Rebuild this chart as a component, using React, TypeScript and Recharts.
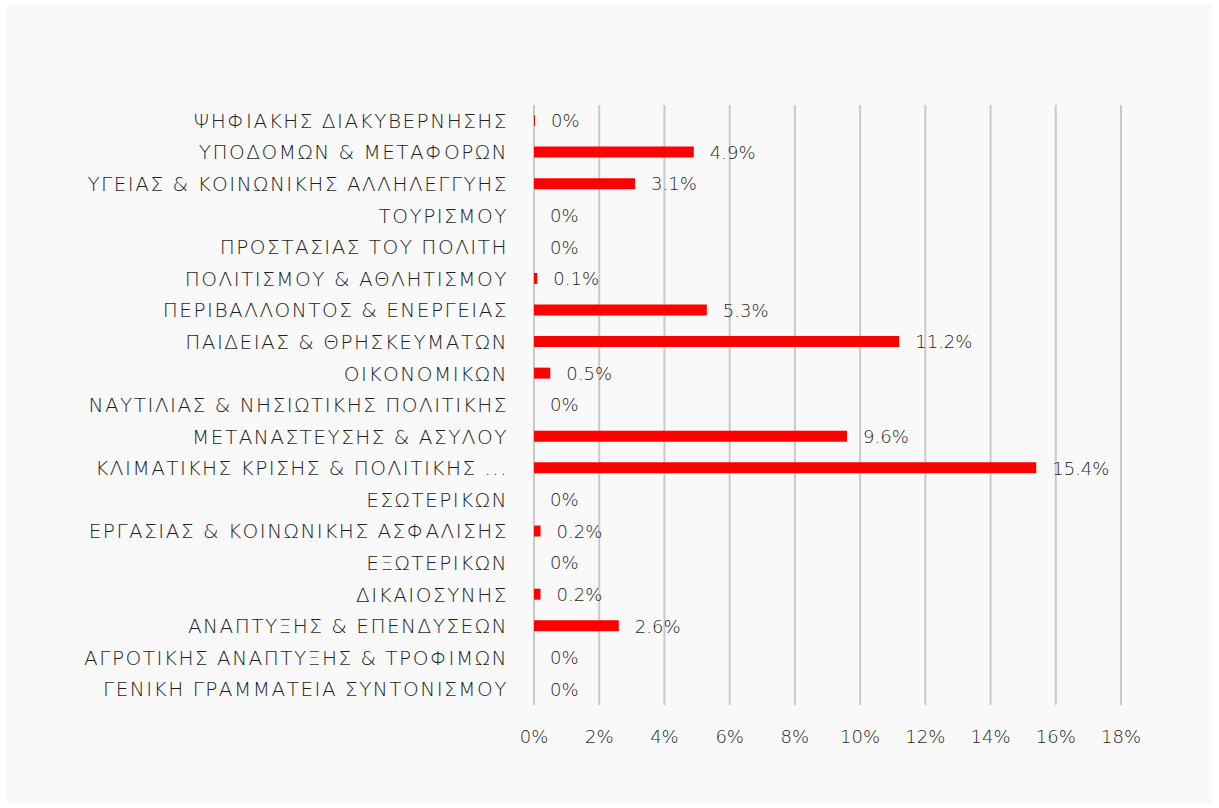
import { ComposedChart, Bar, Scatter, XAxis, YAxis, CartesianGrid, LabelList } from "recharts";

const categories = [
  "ΨΗΦΙΑΚΗΣ ΔΙΑΚΥΒΕΡΝΗΣΗΣ",
  "ΥΠΟΔΟΜΩΝ & ΜΕΤΑΦΟΡΩΝ",
  "ΥΓΕΙΑΣ & ΚΟΙΝΩΝΙΚΗΣ ΑΛΛΗΛΕΓΓΥΗΣ",
  "ΤΟΥΡΙΣΜΟΥ",
  "ΠΡΟΣΤΑΣΙΑΣ ΤΟΥ ΠΟΛΙΤΗ",
  "ΠΟΛΙΤΙΣΜΟΥ & ΑΘΛΗΤΙΣΜΟΥ",
  "ΠΕΡΙΒΑΛΛΟΝΤΟΣ & ΕΝΕΡΓΕΙΑΣ",
  "ΠΑΙΔΕΙΑΣ & ΘΡΗΣΚΕΥΜΑΤΩΝ",
  "ΟΙΚΟΝΟΜΙΚΩΝ",
  "ΝΑΥΤΙΛΙΑΣ & ΝΗΣΙΩΤΙΚΗΣ ΠΟΛΙΤΙΚΗΣ",
  "ΜΕΤΑΝΑΣΤΕΥΣΗΣ & ΑΣΥΛΟΥ",
  "ΚΛΙΜΑΤΙΚΗΣ ΚΡΙΣΗΣ & ΠΟΛΙΤΙΚΗΣ ...",
  "ΕΣΩΤΕΡΙΚΩΝ",
  "ΕΡΓΑΣΙΑΣ & ΚΟΙΝΩΝΙΚΗΣ ΑΣΦΑΛΙΣΗΣ",
  "ΕΞΩΤΕΡΙΚΩΝ",
  "ΔΙΚΑΙΟΣΥΝΗΣ",
  "ΑΝΑΠΤΥΞΗΣ & ΕΠΕΝΔΥΣΕΩΝ",
  "ΑΓΡΟΤΙΚΗΣ ΑΝΑΠΤΥΞΗΣ & ΤΡΟΦΙΜΩΝ",
  "ΓΕΝΙΚΗ ΓΡΑΜΜΑΤΕΙΑ ΣΥΝΤΟΝΙΣΜΟΥ",
];

// share in percent
const shares = [0.03, 4.9, 3.1, 0, 0, 0.1, 5.3, 11.2, 0.5, 0, 9.6, 15.4, 0, 0.2, 0, 0.2, 2.6, 0, 0];

const xTicks = [0, 2, 4, 6, 8, 10, 12, 14, 16, 18];

const data = categories.map((name, i) => ({ name, value: shares[i] }));

const FONT = "'DejaVu Sans', sans-serif";
const TEXT = "#1f1f1f";

const pct = (v: number) => `${Number(Number(v).toFixed(1))}%`;

// label drawn at the end of each bar (scatter point sits on the bar end)
const ValueLabel = (props: any) => {
  const { x, y, width, height, value } = props;
  const cx = Number(x) + (Number(width) || 0) / 2;
  const cy = Number(y) + (Number(height) || 0) / 2;
  return (
    <text
      x={cx + 16}
      y={cy}
      dy="0.36em"
      fill={TEXT}
      fontSize={18}
      fontFamily={FONT}
      fontWeight={200}
    >
      {pct(value)}
    </text>
  );
};

export default function App() {
  return (
    <div
      style={{
        position: "absolute",
        left: 7,
        top: 4,
        width: 1205,
        height: 800,
        background: "#f9f9f9",
      }}
    >
      <ComposedChart
        width={1205}
        height={800}
        data={data}
        layout="vertical"
        margin={{ top: 101, right: 91, left: 7, bottom: 0 }}
        barCategoryGap={0}
      >
        <CartesianGrid horizontal={false} stroke="#c9c9c9" strokeWidth={2} />
        <XAxis
          type="number"
          domain={[0, 18]}
          ticks={xTicks}
          tickFormatter={pct}
          axisLine={false}
          tickLine={false}
          tickSize={0}
          tickMargin={25}
          height={99}
          interval={0}
          tick={{ fill: TEXT, fontSize: 18, fontFamily: FONT, fontWeight: 200 }}
        />
        <YAxis
          type="category"
          dataKey="name"
          width={520}
          axisLine={false}
          tickLine={false}
          tickSize={0}
          tickMargin={26}
          interval={0}
          tick={{ fill: TEXT, fontSize: 20, fontFamily: FONT, fontWeight: 200, letterSpacing: 1.5 }}
        />
        <Bar dataKey="value" fill="#ff0000" barSize={11} isAnimationActive={false} />
        <Scatter dataKey="value" shape={() => <g />} isAnimationActive={false}>
          <LabelList dataKey="value" content={ValueLabel} />
        </Scatter>
      </ComposedChart>
    </div>
  );
}
